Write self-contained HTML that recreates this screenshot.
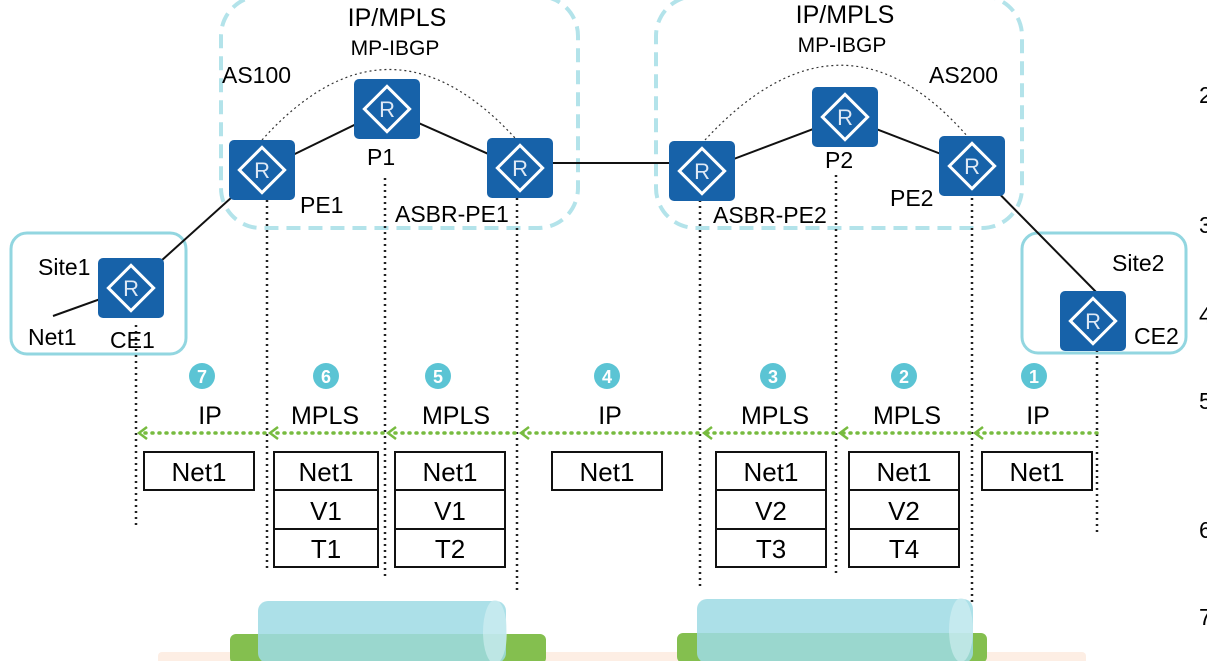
<!DOCTYPE html>
<html><head><meta charset="utf-8"><style>
html,body{margin:0;padding:0;background:#fff;}
svg{display:block;font-family:"Liberation Sans",sans-serif;}
</style></head><body>
<svg width="1207" height="661" viewBox="0 0 1207 661" xmlns="http://www.w3.org/2000/svg">
<!-- bottom pipes -->
<rect x="158" y="652" width="928" height="12" rx="4" fill="#fdeee4"/>
<rect x="230" y="634" width="316" height="30" rx="6" fill="#84bf4f"/>
<rect x="677" y="633" width="310" height="30" rx="6" fill="#84bf4f"/>
<rect x="258" y="601" width="248" height="62" rx="10" fill="#9edbe4" opacity="0.85"/>
<rect x="697" y="599" width="276" height="64" rx="10" fill="#9edbe4" opacity="0.85"/>
<ellipse cx="495" cy="632" rx="12" ry="32" fill="#d6f0f4" opacity="0.6"/>
<ellipse cx="961" cy="630" rx="12" ry="32" fill="#d6f0f4" opacity="0.6"/>

<!-- AS boxes -->
<rect x="221" y="-4" width="357" height="232" rx="40" fill="none" stroke="#b3e3ea" stroke-width="4" stroke-dasharray="14,8"/>
<rect x="656" y="-4" width="366" height="232" rx="40" fill="none" stroke="#b3e3ea" stroke-width="4" stroke-dasharray="14,8"/>
<!-- site boxes -->
<rect x="11" y="233" width="175" height="121" rx="16" fill="none" stroke="#92d6e0" stroke-width="3"/>
<rect x="1022" y="233" width="164" height="120" rx="16" fill="none" stroke="#92d6e0" stroke-width="3"/>

<!-- arcs -->
<path d="M262,140 Q388,0 515,138" fill="none" stroke="#333" stroke-width="1.2" stroke-dasharray="2,3"/>
<path d="M705,140 Q842,-8 968,137" fill="none" stroke="#333" stroke-width="1.2" stroke-dasharray="2,3"/>

<!-- links -->
<g stroke="#111" stroke-width="2">
<line x1="53" y1="316" x2="131" y2="288"/>
<line x1="131" y1="288" x2="262" y2="170"/>
<line x1="262" y1="170" x2="387" y2="109"/>
<line x1="387" y1="109" x2="520" y2="168"/>
<line x1="520" y1="163" x2="702" y2="163"/>
<line x1="702" y1="171" x2="845" y2="117"/>
<line x1="845" y1="117" x2="972" y2="166"/>
<line x1="972" y1="166" x2="1100" y2="296"/>
</g>

<!-- vertical dotted lines -->
<g stroke="#222" stroke-width="2.5" stroke-dasharray="2,4">
<line x1="136" y1="325" x2="136" y2="525"/>
<line x1="267" y1="200" x2="267" y2="572"/>
<line x1="385" y1="178" x2="385" y2="578"/>
<line x1="517" y1="198" x2="517" y2="593"/>
<line x1="700" y1="200" x2="700" y2="590"/>
<line x1="836" y1="175" x2="836" y2="576"/>
<line x1="972" y1="198" x2="972" y2="602"/>
<line x1="1097" y1="350" x2="1097" y2="532"/>
</g>

<!-- routers -->
<g font-size="22" fill="#dfe9f5" text-anchor="middle">
<g transform="translate(262,170)"><rect x="-33" y="-30" width="66" height="60" rx="5" fill="#1762a9"/><rect x="-16" y="-16" width="32" height="32" transform="rotate(45)" fill="none" stroke="#fff" stroke-width="3"/><text y="8">R</text></g>
<g transform="translate(387,109)"><rect x="-33" y="-30" width="66" height="60" rx="5" fill="#1762a9"/><rect x="-16" y="-16" width="32" height="32" transform="rotate(45)" fill="none" stroke="#fff" stroke-width="3"/><text y="8">R</text></g>
<g transform="translate(520,168)"><rect x="-33" y="-30" width="66" height="60" rx="5" fill="#1762a9"/><rect x="-16" y="-16" width="32" height="32" transform="rotate(45)" fill="none" stroke="#fff" stroke-width="3"/><text y="8">R</text></g>
<g transform="translate(702,171)"><rect x="-33" y="-30" width="66" height="60" rx="5" fill="#1762a9"/><rect x="-16" y="-16" width="32" height="32" transform="rotate(45)" fill="none" stroke="#fff" stroke-width="3"/><text y="8">R</text></g>
<g transform="translate(845,117)"><rect x="-33" y="-30" width="66" height="60" rx="5" fill="#1762a9"/><rect x="-16" y="-16" width="32" height="32" transform="rotate(45)" fill="none" stroke="#fff" stroke-width="3"/><text y="8">R</text></g>
<g transform="translate(972,166)"><rect x="-33" y="-30" width="66" height="60" rx="5" fill="#1762a9"/><rect x="-16" y="-16" width="32" height="32" transform="rotate(45)" fill="none" stroke="#fff" stroke-width="3"/><text y="8">R</text></g>
<g transform="translate(131,288)"><rect x="-33" y="-30" width="66" height="60" rx="5" fill="#1762a9"/><rect x="-16" y="-16" width="32" height="32" transform="rotate(45)" fill="none" stroke="#fff" stroke-width="3"/><text y="8">R</text></g>
<g transform="translate(1093,321)"><rect x="-33" y="-30" width="66" height="60" rx="5" fill="#1762a9"/><rect x="-16" y="-16" width="32" height="32" transform="rotate(45)" fill="none" stroke="#fff" stroke-width="3"/><text y="8">R</text></g>
</g>

<!-- labels -->
<g fill="#000" font-size="23">
<text x="397" y="26" font-size="25" text-anchor="middle">IP/MPLS</text>
<text x="395" y="55" font-size="21" text-anchor="middle">MP-IBGP</text>
<text x="845" y="23" font-size="25" text-anchor="middle">IP/MPLS</text>
<text x="842" y="52" font-size="21" text-anchor="middle">MP-IBGP</text>
<text x="222" y="83">AS100</text>
<text x="929" y="83">AS200</text>
<text x="300" y="213">PE1</text>
<text x="367" y="165">P1</text>
<text x="395" y="222">ASBR-PE1</text>
<text x="713" y="223">ASBR-PE2</text>
<text x="825" y="168">P2</text>
<text x="890" y="206">PE2</text>
<text x="38" y="275">Site1</text>
<text x="28" y="345">Net1</text>
<text x="110" y="348">CE1</text>
<text x="1112" y="271">Site2</text>
<text x="1134" y="344">CE2</text>
<text x="1199" y="103">2</text>
<text x="1199" y="233">3</text>
<text x="1199" y="323">4</text>
<text x="1199" y="409">5</text>
<text x="1199" y="538">6</text>
<text x="1199" y="625">7</text>
</g>

<!-- step circles -->
<g font-size="18" fill="#fff" text-anchor="middle" font-weight="bold">
<circle cx="202" cy="376" r="13" fill="#5bc4d4"/><text x="202" y="383">7</text>
<circle cx="326" cy="376" r="13" fill="#5bc4d4"/><text x="326" y="383">6</text>
<circle cx="438" cy="376" r="13" fill="#5bc4d4"/><text x="438" y="383">5</text>
<circle cx="607" cy="376" r="13" fill="#5bc4d4"/><text x="607" y="383">4</text>
<circle cx="773" cy="376" r="13" fill="#5bc4d4"/><text x="773" y="383">3</text>
<circle cx="904" cy="376" r="13" fill="#5bc4d4"/><text x="904" y="383">2</text>
<circle cx="1034" cy="376" r="13" fill="#5bc4d4"/><text x="1034" y="383">1</text>
</g>

<g font-size="25" fill="#000" text-anchor="middle">
<text x="210" y="424">IP</text>
<text x="325" y="424">MPLS</text>
<text x="456" y="424">MPLS</text>
<text x="610" y="424">IP</text>
<text x="775" y="424">MPLS</text>
<text x="907" y="424">MPLS</text>
<text x="1038" y="424">IP</text>
</g>

<!-- green arrows -->
<g stroke="#77bb3f" stroke-width="3.5" stroke-dasharray="1,6" stroke-linecap="round" fill="none">
<line x1="1097" y1="433" x2="976" y2="433"/>
<line x1="970" y1="433" x2="840" y2="433"/>
<line x1="834" y1="433" x2="704" y2="433"/>
<line x1="698" y1="433" x2="521" y2="433"/>
<line x1="515" y1="433" x2="389" y2="433"/>
<line x1="383" y1="433" x2="271" y2="433"/>
<line x1="265" y1="433" x2="140" y2="433"/>
</g>
<g stroke="#77bb3f" stroke-width="2.5" fill="none">
<path d="M983,427 L975,433 L983,439"/>
<path d="M848,427 L840,433 L848,439"/>
<path d="M712,427 L704,433 L712,439"/>
<path d="M529,427 L521,433 L529,439"/>
<path d="M396,427 L388,433 L396,439"/>
<path d="M278,427 L270,433 L278,439"/>
<path d="M147,427 L139,433 L147,439"/>
</g>

<!-- packet boxes -->
<g fill="#fff" stroke="#111" stroke-width="2">
<rect x="144" y="452" width="110" height="38"/>
<rect x="274" y="452" width="104" height="38"/><rect x="274" y="490" width="104" height="39"/><rect x="274" y="529" width="104" height="38"/>
<rect x="395" y="452" width="110" height="38"/><rect x="395" y="490" width="110" height="39"/><rect x="395" y="529" width="110" height="38"/>
<rect x="552" y="452" width="110" height="38"/>
<rect x="716" y="452" width="110" height="38"/><rect x="716" y="490" width="110" height="39"/><rect x="716" y="529" width="110" height="38"/>
<rect x="849" y="452" width="110" height="38"/><rect x="849" y="490" width="110" height="39"/><rect x="849" y="529" width="110" height="38"/>
<rect x="982" y="452" width="110" height="38"/>
</g>
<g font-size="26" fill="#000" text-anchor="middle">
<text x="199" y="481">Net1</text>
<text x="326" y="481">Net1</text><text x="326" y="520">V1</text><text x="326" y="558">T1</text>
<text x="450" y="481">Net1</text><text x="450" y="520">V1</text><text x="450" y="558">T2</text>
<text x="607" y="481">Net1</text>
<text x="771" y="481">Net1</text><text x="771" y="520">V2</text><text x="771" y="558">T3</text>
<text x="904" y="481">Net1</text><text x="904" y="520">V2</text><text x="904" y="558">T4</text>
<text x="1037" y="481">Net1</text>
</g>
</svg>
</body></html>
